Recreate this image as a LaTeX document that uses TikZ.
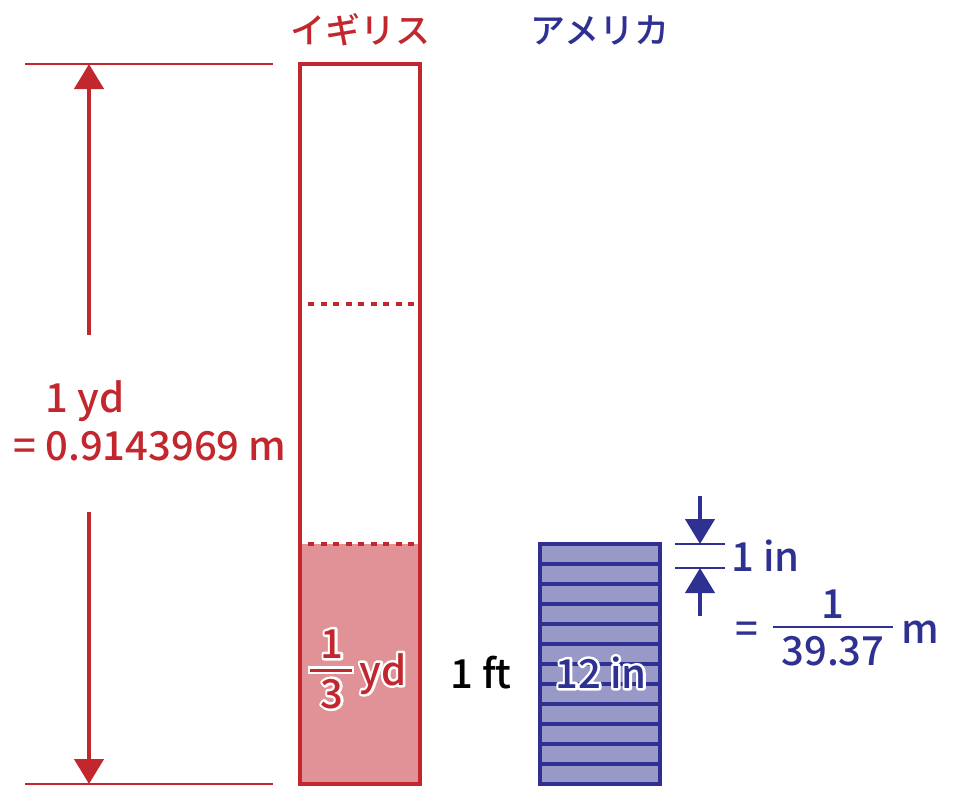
\documentclass[tikz,border=0pt]{standalone}
\usepackage{fontspec}
\IfFontExistsTF{Noto Sans CJK JP Medium}
  {\setmainfont{Noto Sans CJK JP Medium}}
  {\setmainfont{Noto Sans CJK JP}}
\usetikzlibrary{arrows.meta}
\definecolor{ukred}{RGB}{193,39,45}
\definecolor{ukfill}{RGB}{224,146,150}
\definecolor{usblue}{RGB}{46,49,146}
\definecolor{usfill}{RGB}{153,153,200}
% white halo behind a text
\newcommand\halo[1]{\rlap{\special{pdf:literal direct 1 Tr 5 w 1 j 1 1 1 RG}#1\special{pdf:literal direct 0 Tr}}#1}

\begin{document}
\begin{tikzpicture}[x=1pt,y=-1pt,
    lbl/.style={font=\fontsize{40}{44}\selectfont,inner sep=0pt,anchor=base},
    ttl/.style={font=\fontsize{35}{40}\selectfont,inner sep=0pt},
    dimarrow/.style={-{Triangle[width=29pt,length=25pt]},line width=4.5pt}]
  \useasboundingbox (0,0) rectangle (960,800);
  % yard bar
  \fill[ukfill] (300,544) rectangle (420,784);
  \draw[ukred,line width=3.5pt,dash pattern=on 6pt off 6.5pt,dash phase=-4pt] (304,304) -- (416,304) (304,544) -- (416,544);
  \draw[ukred,line width=4pt] (300,64) rectangle (420,784);
  \node[ttl,ukred] (uk) at (360,30) {イギリス};
  % yard dimension
  \draw[ukred,line width=2pt] (25,64) -- (273,64) (25,784) -- (273,784);
  \coordinate (ydtop) at (89,64);
  \coordinate (ydbot) at (89,784);
  \node[lbl,ukred] (yd) at (85,412) {1 yd};
  \node[lbl,ukred] (ydm) at (150,460) {= 0.9143969 m};
  \draw[dimarrow,ukred] (89,335) -- (ydtop);
  \draw[dimarrow,ukred] (89,512) -- (ydbot);
  % one third
  \node[lbl,ukred] (thnum) at (332,658) {\halo{1}};
  \node[lbl,ukred] (thden) at (332,708) {\halo{3}};
  \draw[white,line width=7.5pt] (308,670) -- (354,670);
  \draw[ukred,line width=3pt] (310,670) -- (352,670);
  \node[lbl,ukred] (thyd) at (383,685) {\halo{yd}};
  \node[lbl] (ft) at (481,688) {1 ft};
  % foot bar
  \fill[usfill] (540,544) rectangle (660,784);
  \foreach \y in {564,584,...,764}
    \draw[usblue,line width=3.5pt] (540,\y) -- (660,\y);
  \draw[usblue,line width=4pt] (540,544) rectangle (660,784);
  \node[ttl,usblue] (us) at (600,30) {アメリカ};
  \node[lbl,usblue] (twelve) at (601,688) {\halo{12 in}};
  % inch dimension
  \draw[usblue,line width=2pt] (675,544) -- (725,544) (675,568) -- (725,568);
  \coordinate (intop) at (700,544);
  \coordinate (inbot) at (700,568);
  \draw[dimarrow,usblue] (700,496) -- (intop);
  \draw[dimarrow,usblue] (700,616) -- (inbot);
  \node[lbl,usblue,anchor=base west] (inch) at (731,571) {1 in};
  \node[lbl,usblue] (eq) at (747,643) {=};
  \node[lbl,usblue] (innum) at (833,618) {1};
  \node[lbl,usblue] (inden) at (833,665) {39.37};
  \draw[usblue,line width=2pt] (773,627) -- (893,627);
  \node[lbl,usblue] (inm) at (920,643) {m};
\end{tikzpicture}
\end{document}
